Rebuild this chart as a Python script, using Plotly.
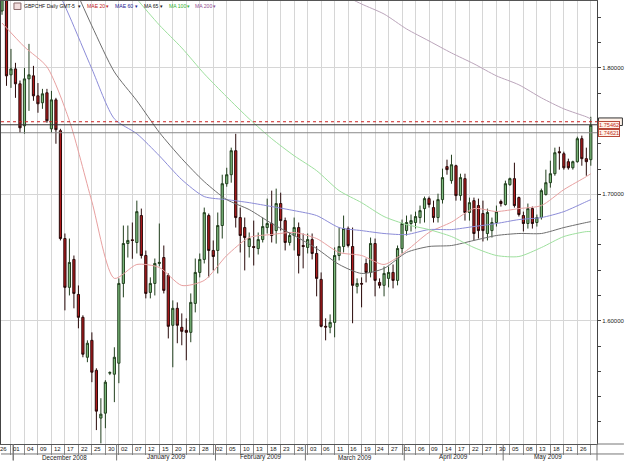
import pandas as pd
import plotly.graph_objects as go

# ---------------- data ----------------
DATES = list(pd.bdate_range("2008-11-26", "2009-05-28"))

OPEN = [1.845, 1.862, 1.7945, 1.7992, 1.7874, 1.7542, 1.7913, 1.7937, 1.7779, 1.7724,
        1.7803, 1.7518, 1.7747, 1.7503, 1.6650, 1.6264, 1.6485, 1.6208, 1.6027, 1.5711,
        1.5845, 1.5608, 1.5230, 1.5269, 1.5585, 1.5577, 1.5664, 1.6295, 1.6611, 1.6640,
        1.6619, 1.6832, 1.6516, 1.6224, 1.6295, 1.6453, 1.6500, 1.6358, 1.5964, 1.6098,
        1.5948, 1.5924, 1.5908, 1.6137, 1.6382, 1.6485, 1.6832, 1.6556, 1.6556, 1.6753,
        1.7084, 1.7155, 1.7345, 1.6816, 1.6737, 1.6587, 1.6587, 1.6571, 1.6642, 1.6737,
        1.6769, 1.6713, 1.6927, 1.6792, 1.6619, 1.6674, 1.6737, 1.6595, 1.6580, 1.6642,
        1.6532, 1.6327, 1.5956, 1.5948, 1.5987, 1.6516, 1.6587, 1.6729, 1.6587, 1.6272,
        1.6295, 1.6453, 1.6382, 1.6611, 1.6303, 1.6280, 1.6335, 1.6382, 1.6319, 1.6571,
        1.6713, 1.6769, 1.6777, 1.6816, 1.6887, 1.6966, 1.6895, 1.6816, 1.6958, 1.7219,
        1.7108, 1.7226, 1.6990, 1.7124, 1.6856, 1.6950, 1.6911, 1.6848, 1.6690, 1.6713,
        1.6777, 1.6943, 1.6919, 1.7076, 1.7124, 1.6974, 1.6832, 1.6769, 1.6887, 1.6777,
        1.6816, 1.6998, 1.7092, 1.7163, 1.7337, 1.7321, 1.7258, 1.7210, 1.7258, 1.7440,
        1.7282, 1.7274]
HIGH = [1.870, 1.868, 1.8150, 1.8040, 1.7900, 1.8000, 1.8190, 1.8016, 1.7880, 1.7834,
        1.7834, 1.7818, 1.7763, 1.7518, 1.6690, 1.6650, 1.6516, 1.6279, 1.6043, 1.5845,
        1.5908, 1.5624, 1.5387, 1.5530, 1.5600, 1.5790, 1.6335, 1.6753, 1.6753, 1.6777,
        1.6950, 1.6887, 1.6555, 1.6343, 1.6492, 1.6769, 1.6595, 1.6374, 1.6161, 1.6145,
        1.6058, 1.6019, 1.6216, 1.6492, 1.6532, 1.6895, 1.6848, 1.6635, 1.6856, 1.7155,
        1.7210, 1.7369, 1.7479, 1.6895, 1.6816, 1.6698, 1.6792, 1.6698, 1.6816, 1.6966,
        1.7029, 1.7045, 1.7013, 1.6816, 1.6698, 1.6816, 1.6777, 1.6690, 1.6690, 1.6690,
        1.6590, 1.6382, 1.6019, 1.6050, 1.6580, 1.6737, 1.6832, 1.6745, 1.6737, 1.6335,
        1.6343, 1.6492, 1.6658, 1.6650, 1.6335, 1.6429, 1.6429, 1.6445, 1.6595, 1.6800,
        1.6832, 1.6840, 1.6863, 1.6911, 1.6982, 1.6982, 1.6950, 1.7005, 1.7203, 1.7274,
        1.7313, 1.7234, 1.7163, 1.7163, 1.6974, 1.6974, 1.6966, 1.6950, 1.6887, 1.6816,
        1.6911, 1.6958, 1.7108, 1.7132, 1.7250, 1.6982, 1.6863, 1.6927, 1.6903, 1.6840,
        1.7045, 1.7195, 1.7266, 1.7369, 1.7376, 1.7337, 1.7282, 1.7266, 1.7456, 1.7464,
        1.7369, 1.7613]
LOW = [1.842, 1.7858, 1.7842, 1.7763, 1.7487, 1.7479, 1.7660, 1.7740, 1.7645, 1.7676,
       1.7566, 1.7487, 1.7400, 1.6635, 1.6082, 1.6200, 1.6098, 1.5940, 1.5711, 1.5672,
       1.5514, 1.5135, 1.5030, 1.5150, 1.5570, 1.5356, 1.5506, 1.6185, 1.6500, 1.6490,
       1.6532, 1.6492, 1.6177, 1.6177, 1.6200, 1.6430, 1.6216, 1.5860, 1.5632, 1.5822,
       1.5806, 1.5687, 1.5830, 1.6066, 1.6343, 1.6453, 1.6343, 1.6398, 1.6374, 1.6650,
       1.7060, 1.7092, 1.6737, 1.6540, 1.6398, 1.6500, 1.6437, 1.6524, 1.6619, 1.6690,
       1.6619, 1.6610, 1.6713, 1.6556, 1.6595, 1.6556, 1.6374, 1.6414, 1.6532, 1.6485,
       1.6193, 1.5948, 1.5845, 1.5901, 1.5869, 1.6477, 1.6540, 1.6580, 1.5980, 1.6216,
       1.6106, 1.6303, 1.6343, 1.6193, 1.6256, 1.6193, 1.6264, 1.6256, 1.6280, 1.6532,
       1.6674, 1.6706, 1.6729, 1.6769, 1.6777, 1.6895, 1.6777, 1.6777, 1.6927, 1.7155,
       1.7084, 1.6950, 1.6950, 1.6792, 1.6792, 1.6635, 1.6650, 1.6627, 1.6635, 1.6658,
       1.6745, 1.6903, 1.6911, 1.7068, 1.6895, 1.6824, 1.6706, 1.6729, 1.6729, 1.6745,
       1.6800, 1.6990, 1.7053, 1.7147, 1.7195, 1.7195, 1.7195, 1.7195, 1.7250, 1.7226,
       1.7147, 1.7226]
CLOSE = [1.865, 1.7937, 1.7992, 1.7874, 1.7526, 1.7913, 1.7945, 1.7779, 1.7716, 1.7795,
         1.7582, 1.7747, 1.7511, 1.6650, 1.6264, 1.6461, 1.6216, 1.6027, 1.5735, 1.5822,
         1.5593, 1.5285, 1.5261, 1.5514, 1.5590, 1.5711, 1.6295, 1.6611, 1.6635, 1.6635,
         1.6863, 1.6516, 1.6216, 1.6295, 1.6453, 1.6461, 1.6240, 1.5956, 1.6098, 1.5964,
         1.5916, 1.5908, 1.6145, 1.6382, 1.6485, 1.6855, 1.6556, 1.6508, 1.6753, 1.7084,
         1.7155, 1.7345, 1.6816, 1.6674, 1.6658, 1.6650, 1.6580, 1.6642, 1.6745, 1.6769,
         1.6674, 1.6927, 1.6792, 1.6619, 1.6674, 1.6737, 1.6516, 1.6587, 1.6642, 1.6532,
         1.6335, 1.5956, 1.5950, 1.5987, 1.6516, 1.6587, 1.6729, 1.6595, 1.6280, 1.6295,
         1.6290, 1.6382, 1.6611, 1.6319, 1.6280, 1.6374, 1.6382, 1.6319, 1.6571, 1.6769,
         1.6777, 1.6792, 1.6824, 1.6871, 1.6966, 1.6919, 1.6816, 1.6958, 1.7132, 1.7195,
         1.7234, 1.6990, 1.7132, 1.6856, 1.6934, 1.6690, 1.6713, 1.6713, 1.6856, 1.6777,
         1.6863, 1.6927, 1.7084, 1.7124, 1.6911, 1.6840, 1.6769, 1.6887, 1.6769, 1.6816,
         1.7029, 1.7092, 1.7163, 1.7329, 1.7329, 1.7210, 1.7210, 1.7258, 1.7440, 1.7282,
         1.7258, 1.7546]

# moving-average readings at sampled candles
MA_IDX = [0, 5, 10, 15, 20, 25, 30, 35, 40, 45, 50, 55, 60, 65, 70, 75, 80, 85, 90,
          95, 100, 105, 110, 115, 120, 125, 130, 131]
MAE20 = [1.8355, 1.8166, 1.8008, 1.7582, 1.6942, 1.6335, 1.6445, 1.6421, 1.6279, 1.6319,
         1.6516, 1.6658, 1.6682, 1.6698, 1.6650, 1.6540, 1.6516, 1.6445, 1.6555, 1.6698,
         1.6780, 1.6887, 1.6864, 1.6887, 1.6911, 1.7037, 1.7140, 1.7163]
MAE60 = [1.9555, 1.9200, 1.8805, 1.8410, 1.7992, 1.7597, 1.7479, 1.7305, 1.7116, 1.6982,
         1.6958, 1.6934, 1.6903, 1.6871, 1.6832, 1.6737, 1.6713, 1.6690, 1.6682, 1.6721,
         1.6721, 1.6745, 1.6769, 1.6800, 1.6816, 1.6863, 1.6942, 1.6958]
MA65 = [1.9830, 1.9480, 1.9120, 1.8726, 1.8332, 1.7968, 1.7740, 1.7490, 1.7282, 1.7100,
        1.6958, 1.6879, 1.6769, 1.6674, 1.6571, 1.6445, 1.6374, 1.6414, 1.6540, 1.6587,
        1.6595, 1.6635, 1.6674, 1.6690, 1.6690, 1.6737, 1.6777, 1.6784]
MA100 = [2.0100, 1.9830, 1.9550, 1.9280, 1.8987, 1.8766, 1.8545, 1.8339, 1.8158, 1.7953,
         1.7771, 1.7597, 1.7440, 1.7305, 1.7187, 1.7029, 1.6934, 1.6824, 1.6761, 1.6721,
         1.6666, 1.6579, 1.6516, 1.6508, 1.6579, 1.6666, 1.6705, 1.6705]
MA200 = [1.9780, 1.9700, 1.9620, 1.9540, 1.9460, 1.9380, 1.9300, 1.9223, 1.9145, 1.9066,
         1.8987, 1.8910, 1.8830, 1.8750, 1.8671, 1.8592, 1.8505, 1.8426, 1.8308, 1.8213,
         1.8118, 1.8032, 1.7937, 1.7866, 1.7763, 1.7676, 1.7613, 1.7597]

LEVELS = [1.7574, 1.7550, 1.7487]
LABEL_PRICES = [1.7546, 1.7483]
LABEL_TEXTS = ["1.75462", "1.74621"]
Y_TICKS = [1.6, 1.7, 1.8]
Y_TICK_TEXT = ["1.60000", "1.70000", "1.80000"]
LEGEND_TEXTS = ["GBPCHF Daily GMT-5", "MAE 20", "MAE 60", "MA 65", "MA 100", "MA 200"]
LEGEND_COLORS = ["#111111", "#c02020", "#202090", "#111111", "#30b030", "#905090"]
LEGEND_PX = [21, 84, 112, 141, 167, 193]
ARROW_PX = [78.5, 106.5, 135.5, 161.5, 188.5, 214.5]

# ---------------- figure ----------------
W, H = 625, 461
ML, MR, MT, MB = 0, 27, 0, 17
PW, PH = W - ML - MR, H - MT - MB
FONT = "Liberation Sans"

N = len(DATES)
X = list(range(N))

fig = go.Figure()
ma_styles = [(MAE20, "#e8a0a0"), (MAE60, "#8c8cd8"), (MA65, "#6e6e6e"),
             (MA100, "#9ee09e"), (MA200, "#bba5bb")]
for vals, col in ma_styles:
    fig.add_trace(go.Scatter(x=MA_IDX, y=vals, mode="lines",
                             line=dict(color=col, width=1, shape="spline", smoothing=0.7),
                             hoverinfo="skip"))

fig.add_trace(go.Candlestick(
    x=X, open=OPEN, high=HIGH, low=LOW, close=CLOSE,
    increasing=dict(line=dict(color="#23401f", width=1), fillcolor="#7dbb7d"),
    decreasing=dict(line=dict(color="#2a0a0a", width=1), fillcolor="#b01a1c"),
    whiskerwidth=0, hoverinfo="skip"))

grid_vals = [i for i in X if i % 3 == 2]
xr = [-1.0 / 4.51, (N - 1) + 6.2 / 4.51]
yr = [1.5025, 1.8529]

shapes = []
# level lines
shapes.append(dict(type="line", xref="paper", yref="y", x0=0, x1=1, y0=LEVELS[0], y1=LEVELS[0],
                   line=dict(color="#cc2222", width=1, dash="dot")))
shapes.append(dict(type="line", xref="paper", yref="y", x0=0, x1=1, y0=LEVELS[1], y1=LEVELS[1],
                   line=dict(color="#333333", width=1)))
shapes.append(dict(type="line", xref="paper", yref="y", x0=0, x1=1, y0=LEVELS[2], y1=LEVELS[2],
                   line=dict(color="#8a8a8a", width=1)))
# hidden top price box (only its upper edge shows above the next label)
shapes.append(dict(type="rect", xref="paper", yref="y", x0=1.0 + 1.5 / PW, x1=1.0 + 25.5 / PW,
                   y0=LEVELS[0] - 0.0030, y1=LEVELS[0] + 0.0030,
                   line=dict(color="#333333", width=1), fillcolor="#fff3ea"))

# bottom rows
row_y = -10.0 / PH
bot_y = -(MB - 0.5) / PH
shapes.append(dict(type="line", xref="paper", yref="paper", x0=0, x1=W / PW, y0=row_y, y1=row_y,
                   line=dict(color="#777777", width=1)))
shapes.append(dict(type="line", xref="paper", yref="paper", x0=1, x1=W / PW, y0=0, y1=0,
                   line=dict(color="#777777", width=1)))
shapes.append(dict(type="line", xref="paper", yref="paper", x0=1, x1=1, y0=0, y1=bot_y,
                   line=dict(color="#777777", width=1)))

annotations = []
# month labels and separators
months = {}
for i, d in enumerate(DATES):
    months.setdefault((d.year, d.month), []).append(i)
first = True
for key, idxs in months.items():
    if not first:
        shapes.append(dict(type="line", xref="x", yref="paper", x0=idxs[0] - 0.5, x1=idxs[0] - 0.5,
                           y0=0, y1=bot_y, line=dict(color="#777777", width=1)))
    else:
        shapes.append(dict(type="line", xref="x", yref="paper", x0=idxs[-1] + 0.5, x1=idxs[-1] + 0.5,
                           y0=0, y1=bot_y, line=dict(color="#777777", width=1)))
    first = False
    if len(idxs) >= 5:
        annotations.append(dict(xref="x", yref="paper", x=(idxs[0] + idxs[-1]) / 2.0,
                                y=-13.5 / PH, text=DATES[idxs[0]].strftime("%B %Y"),
                                showarrow=False, xanchor="center", yanchor="middle",
                                font=dict(family=FONT, size=6.3, color="#222222")))

# day labels
for i in range(0, N, 3):
    annotations.append(dict(xref="x", yref="paper", x=i + 0.3, y=-5.0 / PH,
                            text=DATES[i].strftime("%d"), showarrow=False,
                            xanchor="center", yanchor="middle",
                            font=dict(family=FONT, size=6.0, color="#222222")))

# price label boxes
for lv, txt in zip(LABEL_PRICES, LABEL_TEXTS):
    annotations.append(dict(xref="paper", yref="y", x=1.0 + 1.5 / PW, y=lv, text=txt,
                            showarrow=False, xanchor="left", yanchor="middle",
                            font=dict(family=FONT, size=5.6, color="#c03020"),
                            bgcolor="#fff3ea", bordercolor="#b84a3a", borderwidth=1, borderpad=0))

# top legend
shapes.append(dict(type="rect", xref="paper", yref="paper", x0=13 / PW, x1=20 / PW,
                   y0=1 - 8.5 / PH, y1=1 - 2 / PH, line=dict(color="#8a6a6a", width=1),
                   fillcolor="#f3dede"))
for txt, col, px, apx in zip(LEGEND_TEXTS, LEGEND_COLORS, LEGEND_PX, ARROW_PX):
    annotations.append(dict(xref="paper", yref="paper", x=px / PW, y=1 - 5.5 / PH, text=txt,
                            showarrow=False, xanchor="left", yanchor="middle",
                            font=dict(family=FONT, size=5.1, color=col)))
    annotations.append(dict(xref="paper", yref="paper", x=apx / PW, y=1 - 5.5 / PH, text="\u25be",
                            showarrow=False, xanchor="center", yanchor="middle",
                            font=dict(family="DejaVu Sans", size=5.0, color=col)))

fig.update_layout(
    width=W, height=H, margin=dict(l=ML, r=MR, t=MT, b=MB),
    paper_bgcolor="white", plot_bgcolor="white", showlegend=False,
    hovermode=False, shapes=shapes, annotations=annotations,
    xaxis=dict(range=xr, tickmode="array", tickvals=grid_vals, showticklabels=False,
               ticks="outside", ticklen=10, tickcolor="#8a8a8a", tickwidth=1,
               showgrid=True, gridcolor="#d6d6d6", gridwidth=1, zeroline=False,
               showline=True, linecolor="#555555", linewidth=1, mirror=True,
               rangeslider=dict(visible=False), fixedrange=True),
    yaxis=dict(range=yr, side="right", tickmode="array", tickvals=Y_TICKS, ticktext=Y_TICK_TEXT,
               ticks="outside", ticklen=3, tickcolor="#444444",
               minor=dict(tickmode="array", tickvals=[round(1.52 + 0.02 * k, 2) for k in range(17)],
                          ticks="outside", ticklen=3, tickcolor="#444444", showgrid=False),
               showgrid=True, gridcolor="#d6d6d6", zeroline=False,
               showline=True, linecolor="#444444", linewidth=1, mirror=True,
               tickfont=dict(family=FONT, size=6.0, color="#222222"), fixedrange=True),
)

fig.write_html("out.html")
